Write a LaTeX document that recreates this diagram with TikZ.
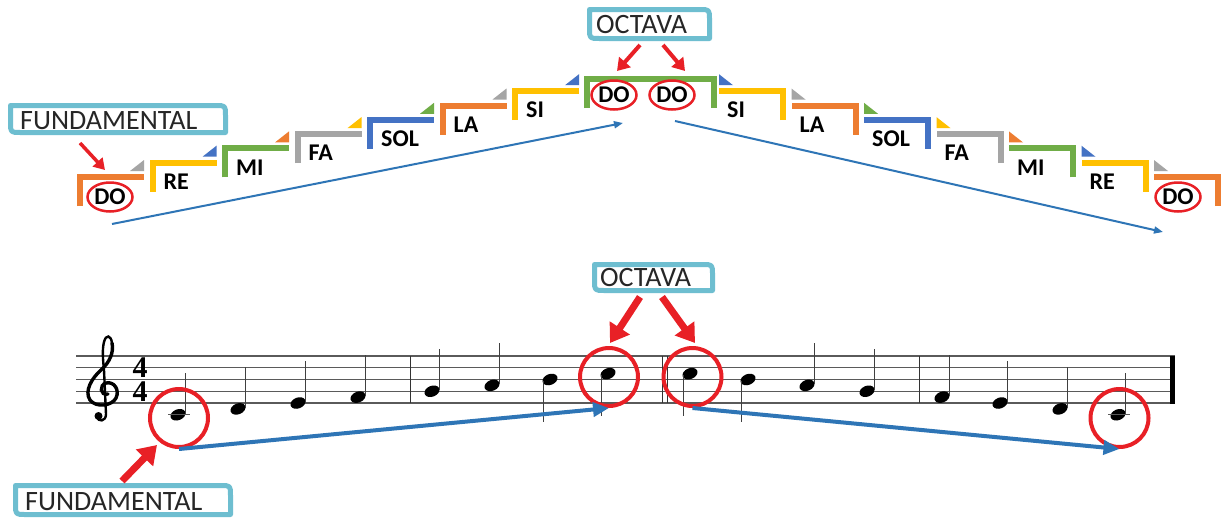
\documentclass[tikz,border=0pt]{standalone}
\usepackage{fontspec}
\setmainfont{Carlito}
\newfontfamily\serifb{Liberation Serif}
\usetikzlibrary{arrows.meta,shapes.geometric}
\definecolor{cOr}{RGB}{237,125,49}
\definecolor{cYe}{RGB}{255,192,0}
\definecolor{cGr}{RGB}{112,173,71}
\definecolor{cGy}{RGB}{165,165,165}
\definecolor{cBl}{RGB}{68,114,196}
\definecolor{cRed}{RGB}{232,32,38}
\definecolor{cArrow}{RGB}{46,117,182}
\definecolor{cBox}{RGB}{110,190,208}
\definecolor{cTxt}{RGB}{38,38,38}
\definecolor{staffc}{RGB}{90,90,90}
\begin{document}
\begin{tikzpicture}[x=1pt,y=-1pt,
  stepline/.style={line width=6pt},
  lbl/.style={font=\fontsize{24}{24}\selectfont\bfseries, inner sep=0pt, anchor=west},
  callout/.style={font=\fontsize{28}{28}\selectfont, text=cTxt, inner sep=0pt, anchor=west},
  boxline/.style={draw=cBox, line width=5pt, line join=round},
  ring/.style={ellipse, draw=cRed, line width=2.5pt, minimum width=45pt, minimum height=29pt, inner sep=0pt, font=\fontsize{24}{24}\selectfont\bfseries},
  bigring/.style={circle, draw=cRed, line width=4pt, minimum size=58pt, inner sep=0pt},
  redsmall/.style={draw=cRed, line width=4pt, -{Triangle[length=12pt,width=15pt]}},
  redbig/.style={draw=cRed, line width=7pt, -{Triangle[length=18pt,width=23pt]}},
  bluethin/.style={draw=cArrow, line width=2pt, -{Triangle[length=9pt,width=7pt]}},
  bluethick/.style={draw=cArrow, line width=4pt, -{Triangle[length=16pt,width=14pt]}},
  staffline/.style={draw=staffc, line width=1.3pt},
  barline/.style={draw=black!80, line width=1pt},
  stemline/.style={draw=black!75, line width=1pt},
  tsig/.style={font=\serifb\bfseries\fontsize{30}{24}\selectfont, inner sep=0pt, align=center},
]
\fill[white] (0,0) rectangle (1226,517);
\useasboundingbox (0,0) rectangle (1226,517);

% ---------------- top staircase ----------------
\draw[stepline,draw=cOr] (80,206) -- (80,177) -- (144,177);
\fill[cGy] (130,171) -- (144,171) -- (144,160) -- cycle;
\draw[stepline,draw=cOr] (1218,206) -- (1218,177) -- (1154,177);
\fill[cGy] (1168,171) -- (1154,171) -- (1154,160) -- cycle;
\foreach \i/\c/\tc/\t in {1/cYe/cBl/RE, 2/cGr/cOr/MI, 3/cGy/cYe/FA, 4/cBl/cGr/SOL, 5/cOr/cGy/LA, 6/cYe/cBl/SI} {
  \pgfmathsetmacro\xx{77+72.5*\i}
  \pgfmathsetmacro\yy{174-14.3*\i}
  \pgfmathsetmacro\rr{1298-\xx}
  \draw[stepline,draw=\c] ({\xx+3},{\yy+32}) -- ({\xx+3},{\yy+3}) -- ({\xx+67},{\yy+3});
  \fill[fill=\tc] ({\xx+53},{\yy-3}) -- ({\xx+67},{\yy-3}) -- ({\xx+67},{\yy-14}) -- cycle;
  \node[lbl] (L\t) at ({\xx+14},{\yy+22}) {\t};
  \draw[stepline,draw=\c] ({\rr-3},{\yy+32}) -- ({\rr-3},{\yy+3}) -- ({\rr-67},{\yy+3});
  \fill[fill=\tc] ({\rr-53},{\yy-3}) -- ({\rr-67},{\yy-3}) -- ({\rr-67},{\yy-14}) -- cycle;
  \node[lbl] (R\t) at ({\rr-59},{\yy+22}) {\t};
}
\draw[stepline,draw=cGr] (587,108) -- (587,79) -- (714,79) -- (714,108);

\node[ring] (doL) at (110,197) {DO};
\node[ring] (doC1) at (614,95) {DO};
\node[ring] (doC2) at (672,95) {DO};
\node[ring] (doR) at (1178,197) {DO};

\draw[boxline] (589.5,9.5) -- (699.5,9.5) .. controls (709.5,9.5) .. (709.5,19.5) -- (709.5,38.5) -- (599.5,38.5) .. controls (589.5,38.5) .. (589.5,28.5) -- cycle;
\node[callout] (octT) at (596,25) {OCTAVA};
\draw[boxline] (10.5,105.5) -- (215.5,105.5) .. controls (225.5,105.5) .. (225.5,115.5) -- (225.5,132.5) -- (20.5,132.5) .. controls (10.5,132.5) .. (10.5,122.5) -- cycle;
\node[callout] (funT) at (20,121) {FUNDAMENTAL};

\coordinate (oa1) at (640,45); \coordinate (oa2) at (617,71);
\coordinate (oa3) at (663,45); \coordinate (oa4) at (685,71);
\draw[redsmall] (oa1) -- (oa2);
\draw[redsmall] (oa3) -- (oa4);
\coordinate (fa1) at (80,143); \coordinate (fa2) at (105,170);
\draw[draw=cRed, line width=3.5pt, -{Triangle[length=11pt,width=13pt]}] (fa1) -- (fa2);
\coordinate (ta1) at (112,224); \coordinate (ta2) at (623,123);
\coordinate (ta3) at (675,121); \coordinate (ta4) at (1163,232);
\draw[bluethin] (ta1) -- (ta2);
\draw[bluethin] (ta3) -- (ta4);

% ---------------- bottom staff ----------------
\foreach \k in {0,...,4} {
  \draw[staffline] (76,{356+11.75*\k}) -- (1175,{356+11.75*\k});
}
\draw[barline] (410,356) -- (410,403);
\draw[barline] (662,356) -- (662,403);
\draw[barline] (667,356) -- (667,403);
\draw[barline] (919,356) -- (919,403);
\draw[black, line width=5pt] (1172.5,355.5) -- (1172.5,403.5);

% treble clef
\draw[black, line width=3.4pt, line cap=round]
  (108,394) .. controls (100,396) and (99,385) .. (106,383)
  .. controls (114,381) and (120,390) .. (116,398)
  .. controls (112,406) and (96,408) .. (90,400)
  .. controls (84,391) and (92,378) .. (101,370)
  .. controls (110,362) and (114,352) .. (112,343);
\draw[black, line width=2.4pt, line cap=round]
  (112,343) .. controls (111,335) and (106,334) .. (104,342)
  .. controls (102,350) and (103,360) .. (104,370)
  -- (106,414)
  .. controls (106,422) and (98,422) .. (97,417);
\fill[black] (98.5,416) circle (4);

\node[tsig] (ts) at (140,379.5) {4\\4};

% notes
\foreach \nx/\s in {178/-2,238/-1,298/0,358/1,432/2,492/3,807/3,867/2,942/1,1000/0,1060/-1,1118/-2} {
  \pgfmathsetmacro\ny{403-5.875*\s}
  \fill[black, rotate around={22:(\nx,\ny)}] (\nx,\ny) ellipse [x radius=7.8pt, y radius=5.4pt];
  \draw[stemline] ({\nx+7},{\ny-1}) -- ({\nx+7},{\ny-42});
}
\foreach \nx/\s in {550/4,608/5,690/5,748/4} {
  \pgfmathsetmacro\ny{403-5.875*\s}
  \fill[black, rotate around={22:(\nx,\ny)}] (\nx,\ny) ellipse [x radius=7.8pt, y radius=5.4pt];
  \draw[stemline] ({\nx-6.5},{\ny+1}) -- ({\nx-6.5},{\ny+42});
}
\draw[staffline, line width=1pt] (168,414.75) -- (190,414.75);
\draw[staffline, line width=1pt] (1108,414.75) -- (1130,414.75);

\node[bigring] (c1) at (179,418) {};
\node[bigring] (c2) at (609,377) {};
\node[bigring] (c3) at (692.5,377) {};
\node[bigring] (c4) at (1119.5,418) {};

\draw[bluethick] (c1.south) -- (c2.south);
\draw[bluethick] (c3.south) -- (c4.south);

\draw[boxline] (594.5,264.5) -- (702.5,264.5) .. controls (712.5,264.5) .. (712.5,274.5) -- (712.5,290.5) -- (604.5,290.5) .. controls (594.5,290.5) .. (594.5,280.5) -- cycle;
\node[callout] (octB) at (600,277.5) {OCTAVA};
\draw[boxline] (15.5,485.5) -- (220.5,485.5) .. controls (230.5,485.5) .. (230.5,495.5) -- (230.5,514.5) -- (25.5,514.5) .. controls (15.5,514.5) .. (15.5,504.5) -- cycle;
\node[callout] (funB) at (25,501.5) {FUNDAMENTAL};

\coordinate (ob1) at (640,297); \coordinate (ob2) at (610,343);
\coordinate (ob3) at (662,297); \coordinate (ob4) at (695,343);
\draw[redbig] (ob1) -- (ob2);
\draw[redbig] (ob3) -- (ob4);
\coordinate (fb1) at (122,481); \coordinate (fb2) at (157,445);
\draw[redbig] (fb1) -- (fb2);
\end{tikzpicture}
\end{document}
